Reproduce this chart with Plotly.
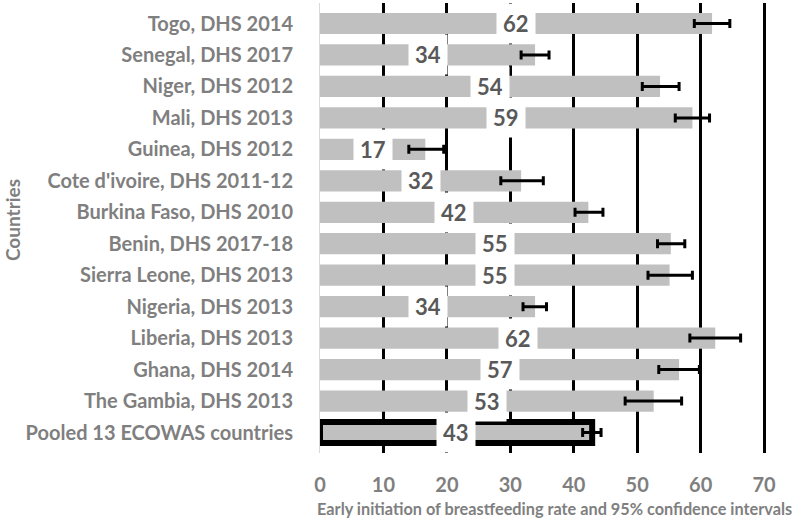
import plotly.graph_objects as go

countries = [
    "Togo, DHS 2014", "Senegal, DHS 2017", "Niger, DHS 2012", "Mali, DHS 2013",
    "Guinea, DHS 2012", "Cote d'ivoire, DHS 2011-12", "Burkina Faso, DHS 2010",
    "Benin, DHS 2017-18", "Sierra Leone, DHS 2013", "Nigeria, DHS 2013",
    "Liberia, DHS 2013", "Ghana, DHS 2014", "The Gambia, DHS 2013",
    "Pooled 13 ECOWAS countries",
]
rates = [61.8, 33.9, 53.6, 58.7, 16.6, 31.7, 42.3, 55.3, 55.1, 33.9, 62.3, 56.6, 52.6, 42.9]
ci_low = [59.0, 31.7, 50.8, 56.0, 14.0, 28.5, 40.2, 53.2, 51.7, 32.0, 58.3, 53.4, 48.1, 41.4]
ci_high = [64.6, 36.1, 56.6, 61.4, 19.5, 35.2, 44.6, 57.5, 58.7, 35.7, 66.3, 59.8, 57.0, 44.3]
x_ticks = [0, 10, 20, 30, 40, 50, 60, 70]

err_plus = [h - v for h, v in zip(ci_high, rates)]
err_minus = [v - l for v, l in zip(rates, ci_low)]
line_w = [0] * (len(countries) - 1) + [6]

FONT = "Lato"
GRAY = "#7f7f7f"

fig = go.Figure()
fig.add_trace(go.Bar(
    y=countries, x=rates, orientation="h",
    marker=dict(color="#c0c0c0", line=dict(color="black", width=line_w)),
    error_x=dict(type="data", array=err_plus, arrayminus=err_minus,
                 color="black", thickness=3, width=4.5),
    hoverinfo="skip",
))

for c, v in zip(countries, rates):
    fig.add_annotation(
        x=v / 2, y=c, xref="x", yref="y", text=f"{v:.0f}", showarrow=False,
        font=dict(family=FONT, size=22, color="#595959", weight="bold"),
        bgcolor="white", borderpad=6,
    )

# axis titles
fig.add_annotation(
    x=(554 - 320) / 446, y=-(508 - 453) / 450, xref="paper", yref="paper",
    text="Early initiation of breastfeeding rate and 95% confidence intervals",
    showarrow=False, xanchor="center", yanchor="middle",
    font=dict(family=FONT, size=16.3, color=GRAY, weight="bold"),
)
fig.add_annotation(
    x=-(320 - 12) / 446, y=(453 - 220) / 450, xref="paper", yref="paper",
    text="Countries", textangle=-90,
    showarrow=False, xanchor="center", yanchor="middle",
    font=dict(family=FONT, size=19, color=GRAY, weight="bold"),
)

fig.update_layout(
    width=792, height=525,
    margin=dict(l=320, r=26, t=3, b=72, autoexpand=False),
    paper_bgcolor="white", plot_bgcolor="white",
    bargap=0.325, showlegend=False,
    font=dict(family=FONT, color=GRAY),
)
fig.update_xaxes(
    range=[0, 70.3], tickvals=x_ticks, showgrid=True, gridcolor="black", gridwidth=3,
    zeroline=False, showline=False, ticks="", ticklabelstandoff=18,
    tickfont=dict(family=FONT, size=20, color=GRAY, weight="bold"),
)
fig.update_yaxes(
    autorange="reversed", showgrid=False, showline=True, linecolor="#d9d9d9", linewidth=1,
    ticks="", ticklabelstandoff=22,
    tickfont=dict(family=FONT, size=20, color=GRAY, weight="bold"),
)

fig.write_html("out.html", config={"displayModeBar": False},
               post_script="document.body.style.margin='0';")
